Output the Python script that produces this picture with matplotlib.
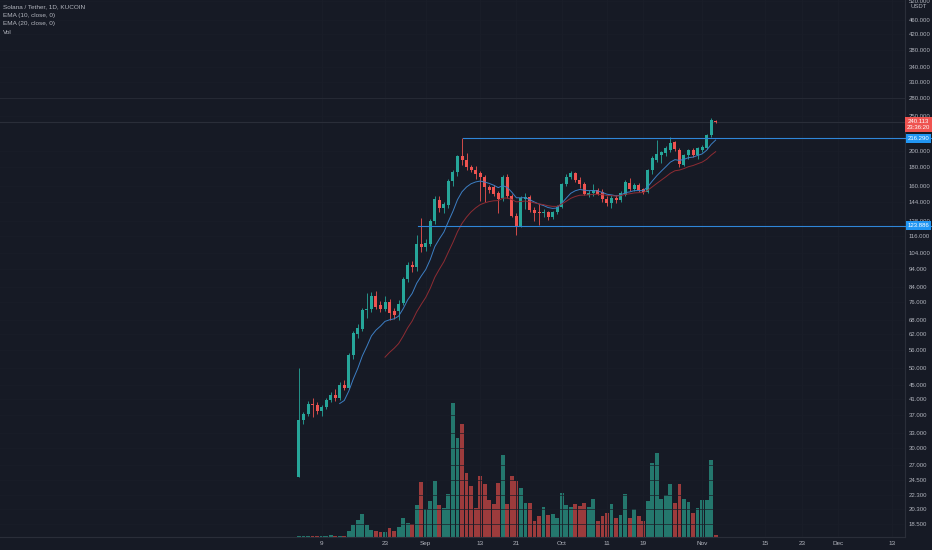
#!/usr/bin/env python3
""" SOL/USDT daily candles with EMA 10/20 and volume, TradingView dark look """

import matplotlib
matplotlib.use("Agg")
import matplotlib.pyplot as plt
import matplotlib.dates as mdates
import matplotlib.transforms as mtransforms
from matplotlib.ticker import NullLocator
import numpy as np
import pandas as pd

# daily candles from 2021-08-04 to 2021-11-04
start_date = "2021-08-04"
opens = [24.9, 35.9, 37.3, 39.8, 39.6, 38.0, 39.0, 40.9, 42.0, 41.3,
         44.8, 44.1, 54.4, 62.0, 64.3, 72.3, 73.0, 79.0, 74.5, 72.8,
         76.3, 72.0, 72.0, 75.5, 88.0, 96.4, 95.0, 110.3, 108.0, 110.5,
         128.0, 146.0, 138.4, 141.0, 165.0, 174.0, 193.0, 188.0, 180.0, 177.0,
         173.0, 169.0, 159.0, 158.5, 153.0, 147.5, 169.0, 150.0, 132.0, 124.0,
         147.0, 149.0, 137.0, 135.0, 134.0, 135.0, 131.0, 135.0, 140.0, 162.0,
         169.0, 173.5, 166.0, 162.0, 151.0, 152.5, 156.0, 154.0, 147.0, 143.5,
         148.0, 146.0, 151.0, 163.0, 157.0, 160.5, 156.5, 154.0, 176.7, 188.0,
         194.5, 196.5, 200.8, 211.0, 201.0, 183.0, 194.5, 201.0, 194.5, 201.0,
         204.0, 221.0, 242.0]
highs = [50.0, 37.8, 40.5, 41.3, 40.3, 39.6, 41.2, 42.8, 43.6, 45.8,
         46.3, 55.0, 63.2, 66.0, 73.5, 80.5, 81.0, 81.5, 76.5, 79.0,
         77.5, 73.5, 77.0, 89.5, 98.5, 99.0, 117.0, 130.0, 114.0, 129.5,
         150.0, 150.0, 144.5, 167.0, 176.5, 195.0, 216.29, 196.5, 182.5, 181.0,
         175.5, 171.0, 161.0, 160.5, 155.0, 171.5, 172.0, 152.0, 134.0, 150.0,
         152.5, 151.0, 140.0, 142.0, 137.5, 136.5, 136.5, 141.5, 163.0, 172.0,
         176.0, 175.0, 168.5, 163.5, 155.5, 162.0, 158.0, 156.5, 149.5, 150.5,
         151.0, 154.5, 166.0, 167.5, 163.0, 162.5, 158.0, 178.0, 193.0, 214.0,
         200.0, 206.0, 218.0, 213.0, 203.0, 196.0, 201.5, 204.0, 205.0, 207.0,
         222.0, 247.0, 243.5]
lows = [24.9, 35.0, 36.8, 36.6, 37.2, 36.9, 38.4, 40.2, 40.6, 40.8,
        43.4, 43.8, 53.0, 60.5, 63.5, 69.0, 71.5, 73.0, 71.5, 71.8,
        67.9, 68.5, 67.9, 74.5, 86.5, 92.5, 93.0, 104.5, 105.5, 109.0,
        125.5, 135.0, 134.5, 139.0, 160.0, 170.5, 183.0, 177.0, 174.0, 167.0,
        145.0, 144.0, 153.0, 149.5, 134.0, 145.5, 148.0, 131.0, 116.8, 122.5,
        138.0, 135.0, 128.0, 124.5, 131.0, 128.5, 129.0, 133.5, 139.0, 160.0,
        166.5, 164.0, 158.0, 150.5, 149.0, 150.0, 150.5, 144.5, 140.5, 139.0,
        143.5, 144.5, 149.5, 155.0, 155.0, 154.0, 152.0, 153.0, 172.0, 186.0,
        185.0, 193.0, 198.0, 199.0, 180.0, 181.0, 190.0, 192.0, 189.0, 198.5,
        201.5, 218.0, 239.0]
closes = [35.9, 37.3, 39.8, 39.5, 38.0, 39.0, 40.9, 42.0, 41.3, 45.0,
          44.1, 54.4, 62.4, 64.7, 72.6, 72.7, 79.0, 74.0, 72.8, 76.3,
          71.0, 70.3, 75.0, 88.0, 96.4, 95.0, 110.3, 108.0, 111.0, 128.0,
          146.6, 138.4, 142.0, 165.0, 174.0, 193.0, 188.0, 180.0, 177.0, 172.0,
          169.0, 159.0, 156.0, 152.0, 147.0, 169.0, 150.0, 132.0, 124.0, 148.0,
          149.0, 137.0, 134.5, 134.0, 135.0, 131.0, 135.0, 140.0, 162.0, 169.0,
          173.5, 166.0, 162.0, 152.0, 153.0, 156.0, 152.0, 147.0, 143.5, 148.0,
          146.0, 153.0, 164.0, 157.0, 160.5, 155.6, 154.0, 176.7, 191.0, 196.0,
          198.5, 203.0, 210.0, 202.0, 184.0, 194.5, 201.0, 194.5, 203.0, 204.5,
          221.0, 243.0, 240.113]
volumes = [1.2, 1.5, 1.3, 1.0, 0.8, 1.5, 1.4, 1.6, 1.2, 1.0,
           1.3, 5.7, 11.7, 17.4, 22.7, 11.7, 7.4, 6.0, 4.7, 4.7,
           8.7, 5.7, 10.0, 19.0, 14.0, 12.7, 31.7, 54.7, 28.4, 35.7,
           55.7, 31.7, 29.0, 43.4, 134.0, 99.4, 113.4, 64.4, 50.7, 29.0,
           61.0, 52.7, 36.7, 33.4, 54.0, 82.4, 32.7, 61.0, 56.0, 48.7,
           34.4, 34.4, 15.7, 20.7, 30.0, 21.7, 23.4, 19.4, 44.4, 32.4,
           30.0, 32.7, 30.7, 34.0, 30.0, 38.0, 16.0, 20.7, 24.0, 33.4,
           19.4, 22.0, 43.4, 19.4, 27.7, 20.7, 15.7, 35.7, 74.0, 84.0,
           37.7, 41.7, 53.0, 34.0, 52.7, 37.7, 35.0, 24.0, 28.7, 36.7,
           37.4, 76.7, 2.4]

# horizontal levels drawn on the chart (price, start date)
level_prices = [216.290, 123.886]
level_starts = ["2021-09-09", "2021-08-30"]
wide_line_prices = [280.0]
countdown = "23:36:20"

price_ticks = [520, 460, 420, 380, 340, 310, 280, 250, 200, 180, 160, 144,
               128, 116, 104, 94, 84, 76, 68, 62, 56, 50, 45, 41, 37, 33,
               30, 27, 24.5, 22.3, 20.3, 18.5]
time_ticks = ["2021-08-09", "2021-08-23", "2021-09-01", "2021-09-13",
              "2021-09-21", "2021-10-01", "2021-10-11", "2021-10-19",
              "2021-11-01", "2021-11-15", "2021-11-23", "2021-12-01",
              "2021-12-13"]
time_labels = ["9", "23", "Sep", "13", "21", "Oct", "11", "19", "Nov",
               "15", "23", "Dec", "13"]
header_lines = ["Solana / Tether, 1D, KUCOIN", "EMA (10, close, 0)",
                "EMA (20, close, 0)", "Vol"]

BG = "#161a25"
TXT = "#b2b5be"
GRID = "#1a1e29"
UP = "#26a69a"
DOWN = "#ef5350"
VOL_UP = "#24776d"
VOL_DOWN = "#9c3b3c"
LEVEL = "#2f86d8"
FS = 4.3


def ema(values, length):
    """ EMA seeded with the SMA of the first `length` values """
    out = [np.nan] * len(values)
    alpha = 2 / (length + 1)
    prev = np.mean(values[:length])
    out[length - 1] = prev
    for k in range(length, len(values)):
        prev = alpha * values[k] + (1 - alpha) * prev
        out[k] = prev
    return np.array(out)


dates = pd.date_range(start_date, periods=len(closes), freq="D")
x = mdates.date2num(dates)
o = np.array(opens)
h = np.array(highs)
l = np.array(lows)
c = np.array(closes)
v = np.array(volumes)
up = c >= o

plt.rcParams["font.family"] = ["Liberation Sans", "DejaVu Sans"]

fig = plt.figure(figsize=(9.32, 5.5), dpi=100, facecolor=BG)
W, H = 932, 550
ax_rect = [0, 13 / H, 905 / W, 537 / H]
axv = fig.add_axes(ax_rect)
ax = fig.add_axes(ax_rect, sharex=axv)
axv.set_facecolor(BG)
ax.patch.set_visible(False)

x0 = x[0]
ax.set_xlim(x0 - 66.0, x0 + 133.8)

# volume pane (behind)
axv.bar(x, v, width=0.85, color=np.where(up, VOL_UP, VOL_DOWN), linewidth=0)
axv.set_ylim(0, v.max() * 537 / 134)
axv.set_yticks([])
for s in axv.spines.values():
    s.set_visible(False)

# price pane
ax.set_yscale("log")
ax.set_ylim(17.02, 522.6)
ax.yaxis.set_minor_locator(NullLocator())
ax.set_yticks(price_ticks)
ax.set_yticklabels([f"{t:.3f}" for t in price_ticks])
ax.yaxis.tick_right()
ax.tick_params(axis="y", length=0, pad=2.6, labelsize=FS, colors=TXT)

tt = mdates.date2num(pd.to_datetime(time_ticks))
ax.set_xticks(tt)
ax.set_xticklabels(time_labels)
ax.tick_params(axis="x", length=0, pad=3, labelsize=4.6, colors=TXT)
plt.setp(axv.get_xticklabels(), visible=False)
axv.tick_params(axis="x", length=0)

for t in tt:
    ax.axvline(t, color=GRID, lw=0.6, zorder=0)
for t in price_ticks:
    ax.axhline(t, color=GRID, lw=0.5, zorder=0)

for s in ["top", "left"]:
    ax.spines[s].set_visible(False)
ax.spines["bottom"].set_color("#2a2e39")
ax.spines["right"].set_color("#2a2e39")
ax.spines["bottom"].set_linewidth(0.8)
ax.spines["right"].set_linewidth(0.8)

# wide reference lines and last price line
for p in wide_line_prices:
    ax.axhline(p, color="#252934", lw=0.8, zorder=1)
ax.axhline(c[-1], color="#2a2e39", lw=0.8, zorder=1)

# candles
colors = np.where(up, UP, DOWN)
ax.vlines(x, l, h, colors=colors, lw=0.6, zorder=3)
body_lo = np.minimum(o, c)
body_hi = np.maximum(o, c)
ax.bar(x, body_hi - body_lo, bottom=body_lo, width=0.66, color=colors,
       linewidth=0, zorder=4)

# EMAs
ax.plot(x, ema(c, 10), color="#3d7fc4", lw=0.7, zorder=5)
ax.plot(x, ema(c, 20), color="#8e2c33", lw=0.7, zorder=5)

# horizontal levels
for p, d in zip(level_prices, level_starts):
    xs = mdates.date2num(pd.Timestamp(d)) + 0.3
    ax.plot([xs, ax.get_xlim()[1]], [p, p], color=LEVEL, lw=0.8, zorder=6)

# price scale labels
trans = mtransforms.blended_transform_factory(ax.transAxes, ax.transData)
axis_right = 932 / 905
for p in level_prices:
    ax.plot([1.0, axis_right], [p, p], color=LEVEL, lw=0.8, transform=trans,
            clip_on=False, zorder=6)
    ax.text((1 + axis_right) / 2, p, f"{p:.3f}", transform=trans,
            ha="center", va="center", fontsize=FS, color="white", zorder=10,
            bbox=dict(boxstyle="square,pad=0.35", fc="#2196f3", ec="none"))

ax.annotate(f"{c[-1]:.3f}\n{countdown}", xy=((1 + axis_right) / 2, c[-1]),
            xycoords=trans, xytext=(0, -2.5), textcoords="offset pixels",
            ha="center", va="center", fontsize=FS, color="white",
            linespacing=1.15, zorder=10, annotation_clip=False,
            bbox=dict(boxstyle="square,pad=0.35", fc="#ef5350", ec="none"))

fig.text(919 / W, 1 - 6.5 / H, "USDT", ha="center", va="center",
         fontsize=FS, color=TXT)

for k, line in enumerate(header_lines):
    fig.text(3 / W, 1 - (7 + 8.4 * k) / H, line, ha="left", va="center",
             fontsize=4.6, color=TXT)

fig.savefig("out.png", dpi=100, facecolor=BG)
